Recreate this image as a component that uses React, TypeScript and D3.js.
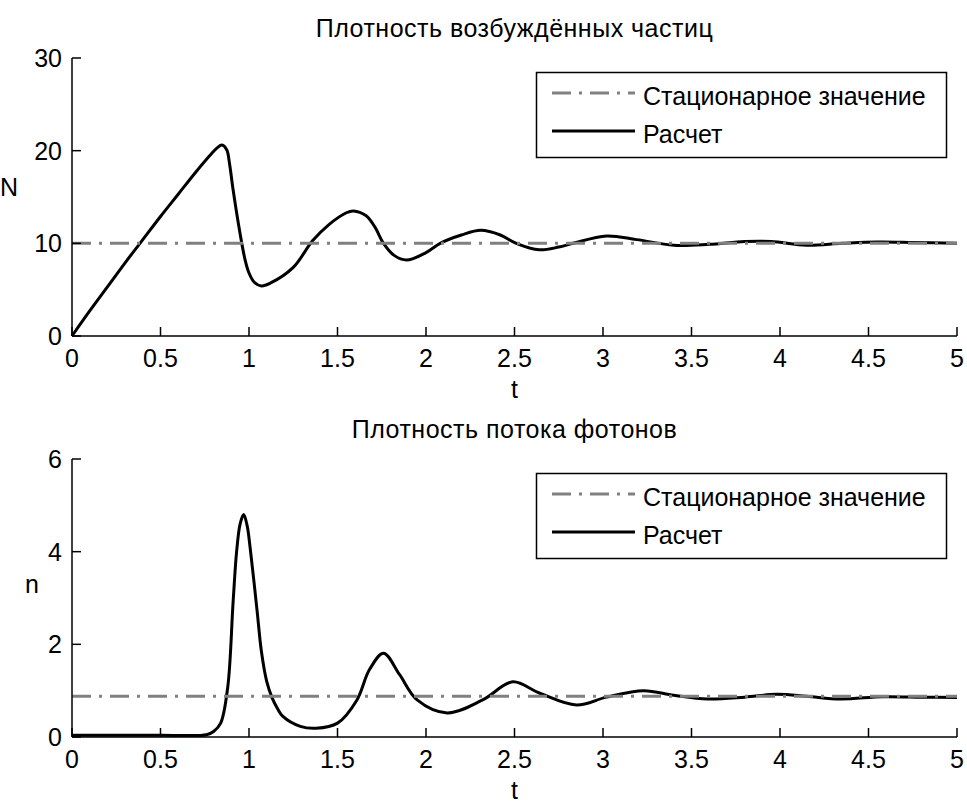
import React from "react";
import * as d3 from "d3";

// ---- Data ----
const tTicks = [0, 0.5, 1, 1.5, 2, 2.5, 3, 3.5, 4, 4.5, 5];
const tTickLabels = ["0", "0.5", "1", "1.5", "2", "2.5", "3", "3.5", "4", "4.5", "5"];
const NTicks = [0, 10, 20, 30];
const nTicks = [0, 2, 4, 6];

const titleTop = "Плотность возбуждённых частиц";
const titleBottom = "Плотность потока фотонов";
const legendLabels = ["Стационарное значение", "Расчет"];

const NStationary = 10;
const nStationary = 0.88;

const tN = [0, 0.1, 0.2, 0.3, 0.4, 0.5, 0.6, 0.7, 0.78, 0.82, 0.847, 0.874, 0.89, 0.91, 0.95, 0.977, 1.0, 1.03, 1.07, 1.12, 1.25, 1.36, 1.45, 1.55, 1.59, 1.66, 1.71, 1.76, 1.82, 1.89, 2.0, 2.08, 2.2, 2.31, 2.42, 2.51, 2.64, 2.75, 2.83, 3.02, 3.19, 3.4, 3.6, 3.8, 3.95, 4.15, 4.35, 4.55, 4.75, 5.0];
const NVals = [0, 2.7, 5.3, 7.9, 10.4, 12.9, 15.3, 17.7, 19.5, 20.3, 20.6, 20.1, 18.6, 15.8, 11.0, 8.3, 6.8, 5.8, 5.4, 5.7, 7.4, 10.3, 12.0, 13.3, 13.5, 13.0, 11.8, 10.0, 8.7, 8.2, 9.0, 10.0, 10.9, 11.4, 10.9, 10.0, 9.3, 9.6, 10.0, 10.8, 10.4, 9.8, 9.9, 10.2, 10.2, 9.8, 10.0, 10.15, 10.1, 10.0];

const tn = [0, 0.5, 0.76, 0.8, 0.84, 0.88, 0.91, 0.93, 0.95, 0.97, 0.99, 1.006, 1.045, 1.07, 1.1, 1.13, 1.16, 1.19, 1.29, 1.38, 1.5, 1.61, 1.68, 1.76, 1.85, 1.95, 2.12, 2.32, 2.49, 2.64, 2.85, 3.02, 3.23, 3.4, 3.59, 3.8, 3.98, 4.15, 4.34, 4.58, 4.8, 5.0];
const nVals = [0.04, 0.04, 0.05, 0.12, 0.3, 1.08, 2.9, 4.0, 4.6, 4.8, 4.55, 4.1, 2.75, 1.85, 1.2, 0.85, 0.62, 0.45, 0.23, 0.19, 0.3, 0.8, 1.45, 1.81, 1.35, 0.8, 0.52, 0.8, 1.19, 0.95, 0.69, 0.86, 1.0, 0.9, 0.82, 0.86, 0.92, 0.88, 0.82, 0.87, 0.86, 0.85];

const FONT = "'Liberation Sans', Arial, sans-serif";
const FS = 25;
const GRAY = "#808080";
const DASHDOT = "19,8,3,8";

type PanelProps = {
  top: number;
  bottom: number;
  ts: number[];
  vs: number[];
  yMax: number;
  yTicks: number[];
  stationary: number;
  title: string;
  ylabel: string;
  ylabelX: number;
  ylabelY: number;
};

const X0 = 72;
const X1 = 957;

function Panel(p: PanelProps) {
  const x = d3.scaleLinear().domain([0, 5]).range([X0, X1]);
  const y = d3.scaleLinear().domain([0, p.yMax]).range([p.bottom, p.top]);
  const pts = p.ts.map((t, i) => [t, p.vs[i]] as [number, number]);
  const line = d3
    .line<[number, number]>()
    .x((d) => x(d[0]))
    .y((d) => y(d[1]))
    .curve(d3.curveCatmullRom.alpha(0.5));
  const tickLen = 9;
  const lgTop = p.top + 14;
  return (
    <g>
      <text x={(X0 + X1) / 2} y={p.top - 21} textAnchor="middle" fontFamily={FONT} fontSize={FS} fill="#000" letterSpacing={0.5}>
        {p.title}
      </text>
      {/* data */}
      <path d={line(pts) || ""} fill="none" stroke="#000" strokeWidth={3} strokeLinejoin="round" />
      <line x1={x(0)} x2={x(5)} y1={y(p.stationary)} y2={y(p.stationary)} stroke={GRAY} strokeWidth={3} strokeDasharray={DASHDOT} />
      {/* axes */}
      <line x1={X0} x2={X1} y1={p.bottom} y2={p.bottom} stroke="#000" strokeWidth={1.5} />
      <line x1={X0} x2={X0} y1={p.bottom} y2={p.top} stroke="#000" strokeWidth={1.5} />
      {tTicks.map((t, i) => (
        <g key={"xt" + i}>
          <line x1={x(t)} x2={x(t)} y1={p.bottom} y2={p.bottom - tickLen} stroke="#000" strokeWidth={1.5} />
          <text x={x(t)} y={p.bottom + 31} textAnchor="middle" fontFamily={FONT} fontSize={FS} fill="#000">
            {tTickLabels[i]}
          </text>
        </g>
      ))}
      {p.yTicks.map((v, i) => (
        <g key={"yt" + i}>
          <line x1={X0} x2={X0 + tickLen} y1={y(v)} y2={y(v)} stroke="#000" strokeWidth={1.5} />
          <text x={X0 - 10} y={y(v) + 9} textAnchor="end" fontFamily={FONT} fontSize={FS} fill="#000">
            {v}
          </text>
        </g>
      ))}
      <text x={(X0 + X1) / 2} y={p.bottom + 62} textAnchor="middle" fontFamily={FONT} fontSize={FS} fill="#000">
        t
      </text>
      <text x={p.ylabelX} y={p.ylabelY} textAnchor="end" fontFamily={FONT} fontSize={FS} fill="#000">
        {p.ylabel}
      </text>
      {/* legend */}
      <rect x={536.5} y={lgTop + 0.5} width={410} height={85} fill="#fff" stroke="#000" strokeWidth={1.5} />
      <line x1={552} x2={635} y1={lgTop + 21} y2={lgTop + 21} stroke={GRAY} strokeWidth={3} strokeDasharray={DASHDOT} />
      <line x1={552} x2={635} y1={lgTop + 59} y2={lgTop + 59} stroke="#000" strokeWidth={3} />
      <text x={643} y={lgTop + 33} fontFamily={FONT} fontSize={FS} fill="#000">
        {legendLabels[0]}
      </text>
      <text x={643} y={lgTop + 71} fontFamily={FONT} fontSize={FS} fill="#000">
        {legendLabels[1]}
      </text>
    </g>
  );
}

export default function App() {
  return (
    <svg
      width={967}
      height={803}
      style={{ position: "absolute", left: 0, top: 0, background: "#fff" }}
    >
      <rect x={0} y={0} width={967} height={803} fill="#fff" />
      <Panel
        top={58}
        bottom={336}
        ts={tN}
        vs={NVals}
        yMax={30}
        yTicks={NTicks}
        stationary={NStationary}
        title={titleTop}
        ylabel="N"
        ylabelX={18}
        ylabelY={196}
      />
      <Panel
        top={459}
        bottom={737}
        ts={tn}
        vs={nVals}
        yMax={6}
        yTicks={nTicks}
        stationary={nStationary}
        title={titleBottom}
        ylabel="n"
        ylabelX={39}
        ylabelY={593}
      />
    </svg>
  );
}
